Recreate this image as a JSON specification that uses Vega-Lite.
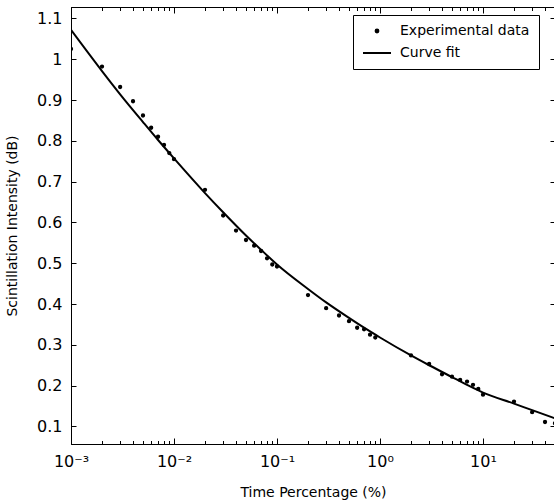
{
  "$schema": "https://vega.github.io/schema/vega-lite/v6.json",
  "width": 484,
  "height": 437,
  "autosize": {"type": "none"},
  "padding": {"left": 71, "top": 7, "right": 0, "bottom": 60},
  "background": "white",
  "config": {
    "view": {"stroke": "black", "strokeWidth": 1},
    "axis": {
      "grid": false,
      "domainColor": "black",
      "domainWidth": 1,
      "tickColor": "black",
      "tickWidth": 1,
      "labelColor": "black",
      "titleColor": "black",
      "labelFont": "DejaVu Sans",
      "titleFont": "DejaVu Sans",
      "titleFontWeight": "normal",
      "labelFontSize": 16,
      "titleFontSize": 14
    }
  },
  "datasets": {
    "points": [
      {"x": 0.001, "y": 1.025, "series": "Experimental data"},
      {"x": 0.002, "y": 0.982, "series": "Experimental data"},
      {"x": 0.003, "y": 0.932, "series": "Experimental data"},
      {"x": 0.004, "y": 0.897, "series": "Experimental data"},
      {"x": 0.005, "y": 0.862, "series": "Experimental data"},
      {"x": 0.006, "y": 0.832, "series": "Experimental data"},
      {"x": 0.007, "y": 0.810, "series": "Experimental data"},
      {"x": 0.008, "y": 0.790, "series": "Experimental data"},
      {"x": 0.009, "y": 0.770, "series": "Experimental data"},
      {"x": 0.01, "y": 0.755, "series": "Experimental data"},
      {"x": 0.02, "y": 0.680, "series": "Experimental data"},
      {"x": 0.03, "y": 0.617, "series": "Experimental data"},
      {"x": 0.04, "y": 0.580, "series": "Experimental data"},
      {"x": 0.05, "y": 0.557, "series": "Experimental data"},
      {"x": 0.06, "y": 0.543, "series": "Experimental data"},
      {"x": 0.07, "y": 0.530, "series": "Experimental data"},
      {"x": 0.08, "y": 0.512, "series": "Experimental data"},
      {"x": 0.09, "y": 0.497, "series": "Experimental data"},
      {"x": 0.1, "y": 0.492, "series": "Experimental data"},
      {"x": 0.2, "y": 0.422, "series": "Experimental data"},
      {"x": 0.3, "y": 0.390, "series": "Experimental data"},
      {"x": 0.4, "y": 0.372, "series": "Experimental data"},
      {"x": 0.5, "y": 0.358, "series": "Experimental data"},
      {"x": 0.6, "y": 0.342, "series": "Experimental data"},
      {"x": 0.7, "y": 0.338, "series": "Experimental data"},
      {"x": 0.8, "y": 0.325, "series": "Experimental data"},
      {"x": 0.9, "y": 0.318, "series": "Experimental data"},
      {"x": 2, "y": 0.274, "series": "Experimental data"},
      {"x": 3, "y": 0.253, "series": "Experimental data"},
      {"x": 4, "y": 0.228, "series": "Experimental data"},
      {"x": 5, "y": 0.222, "series": "Experimental data"},
      {"x": 6, "y": 0.214, "series": "Experimental data"},
      {"x": 7, "y": 0.210, "series": "Experimental data"},
      {"x": 8, "y": 0.202, "series": "Experimental data"},
      {"x": 9, "y": 0.192, "series": "Experimental data"},
      {"x": 10, "y": 0.178, "series": "Experimental data"},
      {"x": 20, "y": 0.161, "series": "Experimental data"},
      {"x": 30, "y": 0.135, "series": "Experimental data"},
      {"x": 40, "y": 0.111, "series": "Experimental data"},
      {"x": 50, "y": 0.108, "series": "Experimental data"}
    ],
    "curve": [
      {"x": 0.001, "y": 1.072},
      {"x": 0.002, "y": 0.971},
      {"x": 0.003, "y": 0.914},
      {"x": 0.005, "y": 0.846},
      {"x": 0.007, "y": 0.802},
      {"x": 0.01, "y": 0.757},
      {"x": 0.02, "y": 0.672},
      {"x": 0.03, "y": 0.625},
      {"x": 0.05, "y": 0.568},
      {"x": 0.07, "y": 0.533},
      {"x": 0.1, "y": 0.497},
      {"x": 0.2, "y": 0.437},
      {"x": 0.3, "y": 0.404},
      {"x": 0.5, "y": 0.366},
      {"x": 0.7, "y": 0.342},
      {"x": 1, "y": 0.318},
      {"x": 2, "y": 0.274},
      {"x": 3, "y": 0.250},
      {"x": 5, "y": 0.221},
      {"x": 7, "y": 0.202},
      {"x": 10, "y": 0.183},
      {"x": 20, "y": 0.156},
      {"x": 30, "y": 0.140},
      {"x": 50, "y": 0.120}
    ]
  },
  "layer": [
    {
      "data": {"name": "curve"},
      "mark": {"type": "line", "color": "black", "strokeWidth": 2, "interpolate": "monotone", "clip": true},
      "encoding": {
        "x": {
          "field": "x", "type": "quantitative",
          "scale": {"type": "log", "domain": [0.001, 50], "nice": false},
          "axis": {
            "orient": "bottom",
            "title": "Time Percentage (%)",
            "titlePadding": 16,
            "values": [0.001, 0.01, 0.1, 1, 10],
            "labelExpr": "'10' + ['⁻³','⁻²','⁻¹','⁰','¹'][round(log(datum.value)/LN10) + 3]",
            "labelFlush": false,
            "labelOverlap": false,
            "labelPadding": 15,
            "ticks": true,
            "tickSize": -6
          }
        },
        "y": {
          "field": "y", "type": "quantitative",
          "scale": {"domain": [0.057, 1.128], "nice": false, "zero": false},
          "axis": {
            "orient": "left",
            "title": "Scintillation Intensity (dB)",
            "titlePadding": 17,
            "values": [0.1,0.2,0.3,0.4,0.5,0.6,0.7,0.8,0.9,1,1.1],
            "format": ".1~f",
            "labelPadding": 14,
            "ticks": true,
            "tickSize": -5
          }
        }
      }
    },
    {
      "data": {"name": "points"},
      "mark": {"type": "point", "filled": true, "color": "black", "stroke": "black", "strokeWidth": 1.5, "opacity": 1, "clip": true},
      "encoding": {
        "x": {
          "field": "x", "type": "quantitative",
          "scale": {"type": "log", "domain": [0.001, 50], "nice": false},
          "axis": {
            "orient": "top",
            "title": null,
            "labels": false,
            "values": [0.001, 0.01, 0.1, 1, 10],
            "ticks": true,
            "tickSize": -6
          }
        },
        "y": {
          "field": "y", "type": "quantitative",
          "scale": {"domain": [0.057, 1.128], "nice": false, "zero": false},
          "axis": {
            "orient": "right",
            "title": null,
            "labels": false,
            "values": [0.1,0.2,0.3,0.4,0.5,0.6,0.7,0.8,0.9,1,1.1],
            "ticks": true,
            "tickSize": -5
          }
        },
        "shape": {
          "field": "series", "type": "nominal",
          "scale": {"domain": ["Experimental data", "Curve fit"], "range": ["circle", "M-2.8,0L2.8,0"]},
          "legend": {
            "title": null,
            "orient": "none",
            "legendX": 282,
            "legendY": 8,
            "padding": 9,
            "strokeColor": "black",
            "fillColor": "white",
            "labelFont": "DejaVu Sans",
            "labelFontSize": 14,
            "labelColor": "black",
            "symbolStrokeColor": "black",
            "symbolFillColor": "black",
            "symbolStrokeWidth": 2,
            "symbolOpacity": 1,
            "symbolOffset": 8,
            "labelOffset": 16,
            "rowPadding": 8
          }
        },
        "size": {
          "field": "series", "type": "nominal",
          "scale": {"domain": ["Experimental data", "Curve fit"], "range": [8, 100]},
          "legend": {
            "title": null,
            "orient": "none",
            "legendX": 282,
            "legendY": 8
          }
        }
      }
    },
    {
      "data": {"name": "points"},
      "mark": {"type": "point", "opacity": 0},
      "encoding": {
        "x": {
          "field": "x", "type": "quantitative",
          "scale": {"type": "log", "domain": [0.001, 50], "nice": false},
          "axis": {
            "orient": "bottom",
            "title": null,
            "labels": false,
            "domain": false,
            "values": [0.002,0.003,0.004,0.005,0.006,0.007,0.008,0.009,0.02,0.03,0.04,0.05,0.06,0.07,0.08,0.09,0.2,0.3,0.4,0.5,0.6,0.7,0.8,0.9,2,3,4,5,6,7,8,9,20,30,40,50],
            "ticks": true,
            "tickSize": -3.5
          }
        },
        "y": {
          "field": "y", "type": "quantitative",
          "scale": {"domain": [0.057, 1.128], "nice": false, "zero": false},
          "axis": null
        }
      }
    },
    {
      "data": {"name": "points"},
      "mark": {"type": "point", "opacity": 0},
      "encoding": {
        "x": {
          "field": "x", "type": "quantitative",
          "scale": {"type": "log", "domain": [0.001, 50], "nice": false},
          "axis": {
            "orient": "top",
            "title": null,
            "labels": false,
            "domain": false,
            "values": [0.002,0.003,0.004,0.005,0.006,0.007,0.008,0.009,0.02,0.03,0.04,0.05,0.06,0.07,0.08,0.09,0.2,0.3,0.4,0.5,0.6,0.7,0.8,0.9,2,3,4,5,6,7,8,9,20,30,40,50],
            "ticks": true,
            "tickSize": -3.5
          }
        },
        "y": {
          "field": "y", "type": "quantitative",
          "scale": {"domain": [0.057, 1.128], "nice": false, "zero": false},
          "axis": null
        }
      }
    }
  ],
  "resolve": {"axis": {"x": "independent", "y": "independent"}}
}
